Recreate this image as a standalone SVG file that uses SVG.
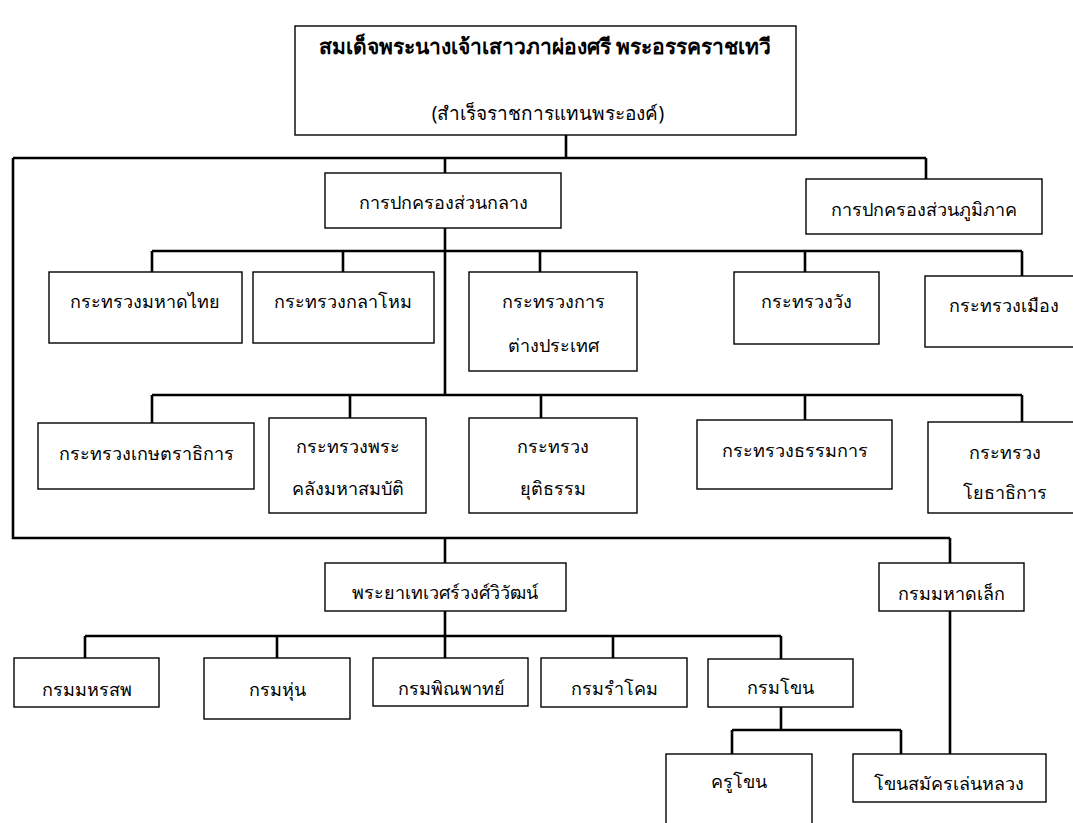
<svg xmlns="http://www.w3.org/2000/svg" width="1073" height="823" viewBox="0 0 1073 823">
<style>
.box{fill:#fff;stroke:#000;stroke-width:1.4}
.t{font-family:"Noto Sans","DejaVu Sans",sans-serif;font-size:18px;font-weight:normal;text-anchor:middle;fill:#000}
.s{font-size:19px}
.b{font-weight:bold;font-size:21px}
.c{fill:none;stroke:#000;stroke-width:2.6}
</style>
<rect width="1073" height="823" fill="#fff"/>
<g id="connectors">
<path class="c" d="M566 135V158M13 158H926M13 158V538H950M445 158V173M926 158V179"/>
<path class="c" d="M445 228V395M152 251H1022M152 251V272M343 251V272M540 251V272M805 251V272M1022 251V276"/>
<path class="c" d="M152 395H1022M152 395V423M350 395V418M541 395V418M805 395V420M1022 395V422"/>
<path class="c" d="M445 538V563M950 538V563M445 611V636M85 636H781M85 636V658M277 636V658M445 636V658M613 636V658M781 636V659"/>
<path class="c" d="M781 707V730M732 730H901M732 730V754M901 730V754M950 611V754"/>
</g>
<g id="n-top"><rect class="box" x="295" y="26" width="501" height="109"/><text class="t b" x="545" y="54">สมเด็จพระนางเจ้าเสาวภาผ่องศรี พระอรรคราชเทวี</text><text class="t s" x="548" y="120">(สำเร็จราชการแทนพระองค์)</text></g>
<g id="n-central"><rect class="box" x="325" y="173" width="236" height="55"/><text class="t" x="443" y="209">การปกครองส่วนกลาง</text></g>
<g id="n-regional"><rect class="box" x="806" y="179" width="236" height="55"/><text class="t" x="924" y="216">การปกครองส่วนภูมิภาค</text></g>
<g id="n-mahadthai"><rect class="box" x="49" y="272" width="193" height="71"/><text class="t" x="145" y="308">กระทรวงมหาดไทย</text></g>
<g id="n-kalahom"><rect class="box" x="253" y="272" width="181" height="71"/><text class="t" x="343" y="308">กระทรวงกลาโหม</text></g>
<g id="n-foreign"><rect class="box" x="469" y="272" width="168" height="99"/><text class="t" x="553" y="308">กระทรวงการ</text><text class="t" x="553" y="352">ต่างประเทศ</text></g>
<g id="n-wang"><rect class="box" x="734" y="272" width="145" height="72"/><text class="t" x="806" y="308">กระทรวงวัง</text></g>
<g id="n-mueang"><rect class="box" x="925" y="276" width="152" height="71"/><text class="t" x="1004" y="312">กระทรวงเมือง</text></g>
<g id="n-kaset"><rect class="box" x="38" y="423" width="216" height="66"/><text class="t" x="146" y="460">กระทรวงเกษตราธิการ</text></g>
<g id="n-khlang"><rect class="box" x="269" y="418" width="157" height="95"/><text class="t" x="348" y="453">กระทรวงพระ</text><text class="t" x="348" y="495">คลังมหาสมบัติ</text></g>
<g id="n-yutitham"><rect class="box" x="469" y="418" width="168" height="95"/><text class="t" x="553" y="453">กระทรวง</text><text class="t" x="553" y="495">ยุติธรรม</text></g>
<g id="n-thammakan"><rect class="box" x="697" y="420" width="195" height="69"/><text class="t" x="795" y="457">กระทรวงธรรมการ</text></g>
<g id="n-yotha"><rect class="box" x="928" y="422" width="150" height="91"/><text class="t" x="1005" y="459">กระทรวง</text><text class="t" x="1005" y="499">โยธาธิการ</text></g>
<g id="n-phraya"><rect class="box" x="325" y="563" width="241" height="48"/><text class="t" x="445" y="599">พระยาเทเวศร์วงศ์วิวัฒน์</text></g>
<g id="n-mahatlek"><rect class="box" x="879" y="563" width="145" height="48"/><text class="t" x="951" y="600">กรมมหาดเล็ก</text></g>
<g id="n-mahorasop"><rect class="box" x="14" y="658" width="145" height="49"/><text class="t" x="87" y="696">กรมมหรสพ</text></g>
<g id="n-hun"><rect class="box" x="204" y="658" width="146" height="61"/><text class="t" x="277" y="696">กรมหุ่น</text></g>
<g id="n-phinphat"><rect class="box" x="373" y="658" width="155" height="48"/><text class="t" x="451" y="695">กรมพิณพาทย์</text></g>
<g id="n-ramkhom"><rect class="box" x="541" y="658" width="146" height="49"/><text class="t" x="614" y="695">กรมรำโคม</text></g>
<g id="n-khon"><rect class="box" x="708" y="659" width="145" height="48"/><text class="t" x="780" y="694">กรมโขน</text></g>
<g id="n-khrukhon"><rect class="box" x="666" y="754" width="146" height="75"/><text class="t" x="739" y="788">ครูโขน</text></g>
<g id="n-khonsamak"><rect class="box" x="853" y="754" width="193" height="48"/><text class="t" x="949" y="790">โขนสมัครเล่นหลวง</text></g>
</svg>
